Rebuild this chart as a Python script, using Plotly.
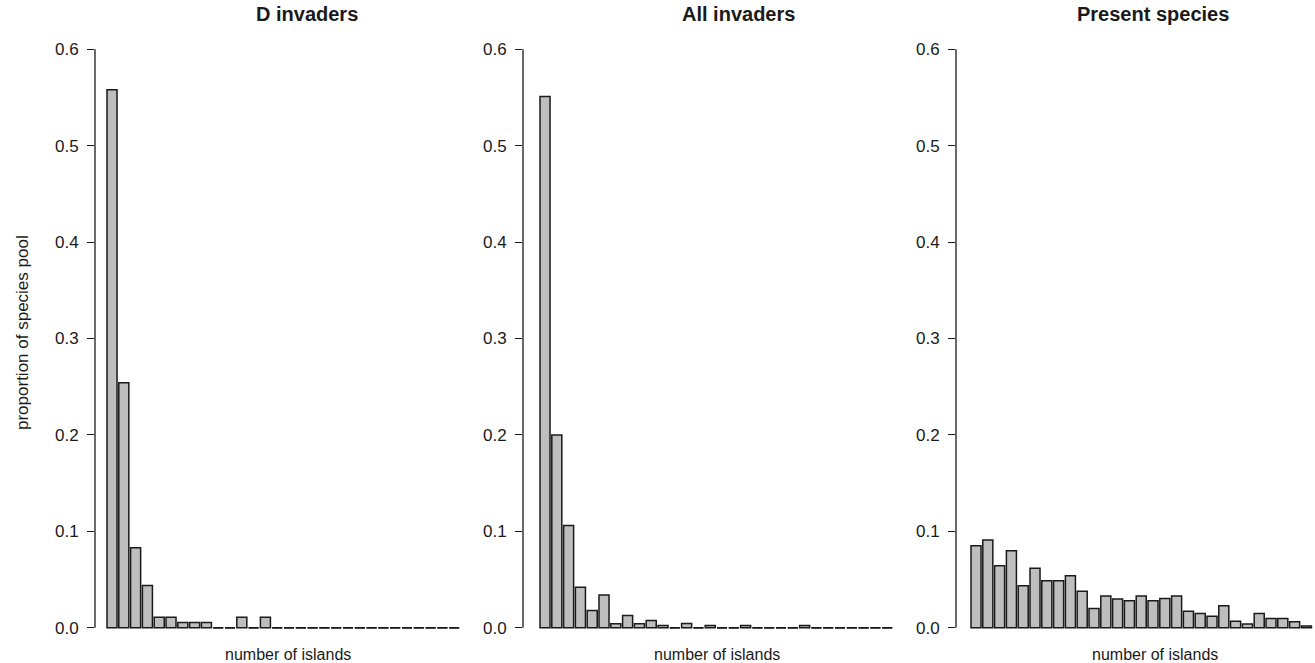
import plotly.graph_objects as go

# ---------------- data ----------------
islands = list(range(1, 31))

d_invaders = [0.558, 0.254, 0.083, 0.044, 0.011, 0.011, 0.0055, 0.0055, 0.0055, 0.0,
              0.0, 0.011, 0.0, 0.011, 0.0, 0.0, 0.0, 0.0, 0.0, 0.0,
              0.0, 0.0, 0.0, 0.0, 0.0, 0.0, 0.0, 0.0, 0.0, 0.0]

all_invaders = [0.551, 0.200, 0.106, 0.042, 0.018, 0.034, 0.0042, 0.0129, 0.0042, 0.0077,
                0.0024, 0.0, 0.0045, 0.0, 0.0024, 0.0, 0.0, 0.0024, 0.0, 0.0,
                0.0, 0.0, 0.0024, 0.0, 0.0, 0.0, 0.0, 0.0, 0.0, 0.0]

present_species = [0.085, 0.091, 0.0645, 0.080, 0.0437, 0.0617, 0.0489, 0.0489, 0.054, 0.038,
                   0.020, 0.033, 0.030, 0.028, 0.033, 0.028, 0.0304, 0.033, 0.0172, 0.0148,
                   0.012, 0.0228, 0.0068, 0.004, 0.0148, 0.0096, 0.0096, 0.0064, 0.002]

panel_titles = ["D invaders", "All invaders", "Present species"]
x_title = "number of islands"
y_title = "proportion of species pool"
y_tick_vals = [0.0, 0.1, 0.2, 0.3, 0.4, 0.5, 0.6]
y_tick_text = ["0.0", "0.1", "0.2", "0.3", "0.4", "0.5", "0.6"]

series = [d_invaders, all_invaders, present_species]

# ---------------- layout geometry (pixels) ----------------
W, H = 1315, 663
M_T, M_B = 26, 12
PLOT_H = H - M_T - M_B
PITCH = 11.8
GAP = 0.15
axis_px = [95, 523, 956]
first_bar_px = [107, 540, 971]
PANEL_W = 395
title_px = [(307, 14), (738, 14), (1153, 14)]
xlab_px = [(288, 654), (717, 654), (1155, 654)]
ylab_px = (22, 333)

FONT = "Liberation Sans, Arial, sans-serif"
BAR_FILL = "#BEBEBE"
INK = "#1a1a1a"


def px_x(x):
    return x / W


def px_y(y):
    return (H - M_B - y) / PLOT_H


fig = go.Figure()
layout = dict(
    width=W, height=H,
    margin=dict(l=0, r=0, t=M_T, b=M_B),
    paper_bgcolor="white", plot_bgcolor="white",
    showlegend=False, bargap=GAP,
    font=dict(family=FONT, color=INK, size=16),
)
shapes = []
annotations = []

bw = (1 - GAP) * PITCH
for k, vals in enumerate(series):
    idx = "" if k == 0 else str(k + 1)
    xa, ya = "x" + idx, "y" + idx
    xs = islands[:len(vals)]
    fig.add_trace(go.Bar(
        x=xs, y=vals, xaxis=xa, yaxis=ya,
        marker=dict(color=BAR_FILL, line=dict(color=INK, width=1.5)),
        hoverinfo="x+y",
    ))
    # zero-height bars are drawn as flat dashes on the baseline
    zx, zy = [], []
    half = (1 - GAP) / 2
    for xv, v in zip(xs, vals):
        if v == 0:
            zx += [xv - half, xv + half, None]
            zy += [0, 0, None]
    fig.add_trace(go.Scatter(x=zx, y=zy, xaxis=xa, yaxis=ya, mode="lines",
                             line=dict(color=INK, width=1.5), hoverinfo="skip"))

    a = axis_px[k]
    c1 = first_bar_px[k] + bw / 2
    left = xs[0] - (c1 - a) / PITCH
    right_px = min(a + PANEL_W, W)
    right = left + (right_px - a) / PITCH
    layout["xaxis" + idx] = dict(
        domain=[px_x(a), px_x(right_px)], range=[left, right],
        visible=False, anchor=ya, fixedrange=True,
    )
    layout["yaxis" + idx] = dict(
        domain=[0, 1], range=[-0.024, 0.624], anchor=xa,
        showgrid=False, zeroline=False, showline=False,
        ticks="outside", ticklen=7, tickwidth=1.3, tickcolor=INK,
        tickvals=y_tick_vals, ticktext=y_tick_text,
        tickfont=dict(family=FONT, size=17, color=INK),
        ticklabelstandoff=5, fixedrange=True,
    )
    shapes.append(dict(type="line", xref=xa + " domain", yref=ya,
                       x0=0, x1=0, y0=0, y1=0.6,
                       line=dict(color=INK, width=1.3)))
    tx, ty = title_px[k]
    annotations.append(dict(text="<b>" + panel_titles[k] + "</b>", xref="paper", yref="paper",
                            x=px_x(tx), y=px_y(ty), showarrow=False,
                            xanchor="center", yanchor="middle",
                            font=dict(family=FONT, size=20, color=INK)))
    lx, ly = xlab_px[k]
    annotations.append(dict(text=x_title, xref="paper", yref="paper",
                            x=px_x(lx), y=px_y(ly), showarrow=False,
                            xanchor="center", yanchor="middle",
                            font=dict(family=FONT, size=16, color=INK)))

annotations.append(dict(text=y_title, xref="paper", yref="paper",
                        x=px_x(ylab_px[0]), y=px_y(ylab_px[1]), showarrow=False,
                        xanchor="center", yanchor="middle", textangle=-90,
                        font=dict(family=FONT, size=17, color=INK)))

layout["shapes"] = shapes
layout["annotations"] = annotations
fig.update_layout(**layout)
fig.write_html("out.html", config={"displayModeBar": False})

# remove the browser's default page margin so the figure sits at the window's corner
with open("out.html", "r", encoding="utf-8") as fh:
    page = fh.read()
page = page.replace("<body>", '<body style="margin:0;padding:0;overflow:hidden">', 1)
with open("out.html", "w", encoding="utf-8") as fh:
    fh.write(page)
